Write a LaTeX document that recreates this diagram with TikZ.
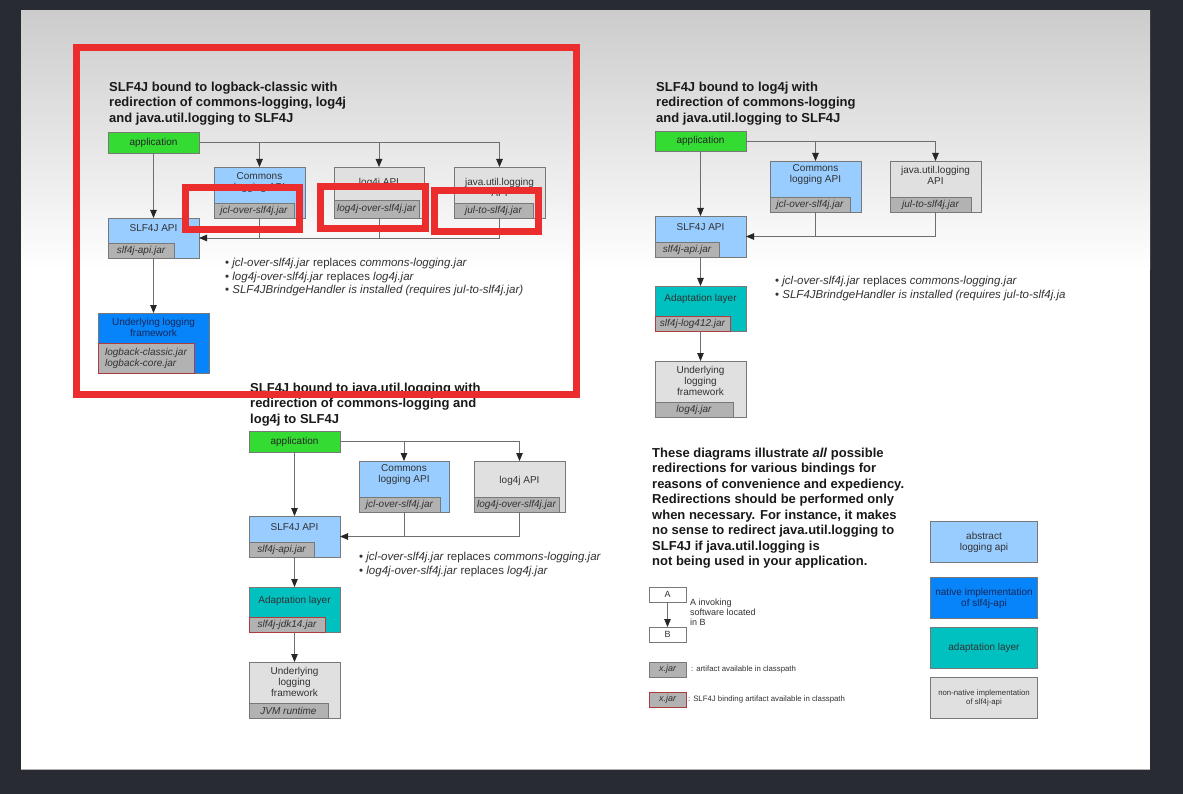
\documentclass[tikz,border=0pt]{standalone}
\usepackage{fontspec}
\setmainfont{Liberation Sans}
\usetikzlibrary{arrows.meta}
\definecolor{bgdark}{RGB}{40,43,50}
\definecolor{slidetop}{RGB}{204,204,204}
\definecolor{apiblue}{RGB}{153,204,255}
\definecolor{natblue}{RGB}{8,132,250}
\definecolor{tealc}{RGB}{0,192,192}
\definecolor{lgray}{RGB}{224,224,224}
\definecolor{jarc}{RGB}{178,178,178}
\definecolor{greenc}{RGB}{51,219,51}
\definecolor{bordc}{RGB}{120,120,120}
\definecolor{redhl}{RGB}{236,45,45}
\definecolor{jarred}{RGB}{175,60,60}
\definecolor{txtc}{RGB}{50,50,50}
\definecolor{navyc}{RGB}{20,40,90}
\definecolor{linec}{RGB}{110,110,110}
\newcommand\bxfont{\fontsize{10}{11}\selectfont}
\newcommand\ttlfont{\fontsize{13}{15.5}\selectfont\bfseries}
\newcommand\blfont{\fontsize{11.5}{13.5}\selectfont}
\newcommand\smfont{\fontsize{9}{10}\selectfont}
\newcommand\tnfont{\fontsize{7.8}{9}\selectfont}
\begin{document}
\begin{tikzpicture}[x=1pt,y=-1pt,
  box/.style={draw=bordc, line width=0.9pt, anchor=north west, inner sep=0pt, outer sep=0pt, minimum width=91},
  jar/.style={draw=bordc, line width=0.9pt, fill=jarc, anchor=south west, inner sep=0pt, outer sep=0pt, minimum height=15, font=\bxfont\itshape, text=txtc},
  bjar/.style={jar, draw=jarred},
  lbl/.style={font=\bxfont, text=txtc, align=center, inner sep=0pt},
  line/.style={draw=linec, line width=0.9pt},
  arr/.style={line, -{Triangle[length=8pt,width=6.5pt,color=black!85]}},
  hl/.style={draw=redhl, line width=7pt},
  ttl/.style={font=\ttlfont, anchor=north west, align=left, inner sep=0pt, text=black!90},
  bul/.style={font=\blfont, anchor=north west, align=left, inner sep=0pt, text=txtc},
  legbox/.style={draw=bordc, line width=1pt, anchor=north west, inner sep=0pt, minimum width=107, minimum height=41, align=center, text=txtc}
]
\useasboundingbox (0,0) rectangle (1183,794);
% backgrounds
\fill[bgdark] (0,0) rectangle (1183,794);
\shade[top color=slidetop, bottom color=white] (21,11) rectangle (1150,270);
\fill[white] (21,270) rectangle (1150,769);
\draw[gray!60, line width=1.5pt] (21,769.5) -- (1150,769.5);

% ================= Top-left diagram =================
\node[ttl] (tlt) at (109,81.5) {SLF4J bound to logback-classic with\\redirection of commons-logging, log4j\\and java.util.logging to SLF4J};
\node[box, fill=greenc, minimum height=21, font=\bxfont, text=black!85] (tlapp) at (108,132) {application};
\node[box, fill=apiblue, minimum height=51] (tlcom) at (214,167) {};
\node[lbl] (tlcoml) at ([yshift=-16]tlcom.north) {Commons\\logging API};
\node[jar, minimum width=80] (tlcomj) at (tlcom.south west) {jcl-over-slf4j.jar};
\node[box, fill=lgray, minimum height=51, minimum width=90] (tllog) at (334,167) {};
\node[lbl] (tllogl) at ([yshift=-16]tllog.north) {log4j API};
\node[jar, minimum width=85, minimum height=18] (tllogj) at (tllog.south west) {log4j-over-slf4j.jar};
\node[box, fill=lgray, minimum height=51] (tljul) at (454,167) {};
\node[lbl] (tljull) at ([yshift=-20]tljul.north) {java.util.logging\\API};
\node[jar, minimum width=79] (tljulj) at (tljul.south west) {jul-to-slf4j.jar};
\node[box, fill=apiblue, minimum height=40] (tlslf) at (108,218) {};
\node[lbl] (tlslfl) at ([yshift=-10.5]tlslf.north) {SLF4J API};
\node[jar, minimum width=66] (tlslfj) at (tlslf.south west) {slf4j-api.jar};
\node[box, fill=natblue, minimum height=60, minimum width=111] (tlund) at (98,313) {};
\node[lbl, text=navyc] (tlundl) at ([yshift=-14.5]tlund.north) {Underlying logging\\framework};
\node[bjar, minimum width=96, minimum height=30, align=left] (tlundj) at (tlund.south west) {logback-classic.jar\\logback-core.jar};
\draw[arr] (tlapp.south) -- (tlslf.north);
\draw[arr] (tlapp.east) -| (tljul.north);
\draw[arr] (tlapp.east -| tlcom.north) -- (tlcom.north);
\draw[arr] (tlapp.east -| tllog.north) -- (tllog.north);
\draw[line] (tlcom.south) -- (tlcom.south |- tlslf.east);
\draw[line] (tllog.south) -- (tllog.south |- tlslf.east);
\draw[arr] (tljul.south) |- (tlslf.east);
\draw[arr] (tlslf.south) -- (tlund.north -| tlslf.south);
\node[bul] (tlb) at (225,258) {• \textit{jcl-over-slf4j.jar} replaces \textit{commons-logging.jar}\\• \textit{log4j-over-slf4j.jar} replaces \textit{log4j.jar}\\• \textit{SLF4JBrindgeHandler is installed (requires jul-to-slf4j.jar)}};

% ================= Top-right diagram =================
\node[ttl] (trt) at (656,81.5) {SLF4J bound to log4j with\\redirection of commons-logging\\and java.util.logging to SLF4J};
\node[box, fill=greenc, minimum height=20, font=\bxfont, text=black!85] (trapp) at (655,131) {application};
\node[box, fill=apiblue, minimum height=51] (trcom) at (770,161) {};
\node[lbl] (trcoml) at ([yshift=-14]trcom.north) {Commons\\logging API};
\node[jar, minimum width=80] (trcomj) at (trcom.south west) {jcl-over-slf4j.jar};
\node[box, fill=lgray, minimum height=51] (trjul) at (890,161) {};
\node[lbl] (trjull) at ([yshift=-14]trjul.north) {java.util.logging\\API};
\node[jar, minimum width=81] (trjulj) at (trjul.south west) {jul-to-slf4j.jar};
\node[box, fill=apiblue, minimum height=41] (trslf) at (655,216) {};
\node[lbl] (trslfl) at ([yshift=-11]trslf.north) {SLF4J API};
\node[jar, minimum width=64] (trslfj) at (trslf.south west) {slf4j-api.jar};
\node[box, fill=tealc, minimum height=45] (trada) at (655,286) {};
\node[lbl] (tradal) at ([yshift=-13]trada.north) {Adaptation layer};
\node[bjar, minimum width=75] (tradaj) at (trada.south west) {slf4j-log412.jar};
\node[box, fill=lgray, minimum height=56] (trund) at (655,361) {};
\node[lbl] (trundl) at ([yshift=-20]trund.north) {Underlying\\logging\\framework};
\node[jar, minimum width=78] (trundj) at (trund.south west) {log4j.jar};
\draw[arr] (trapp.south) -- (trslf.north);
\draw[arr] (trapp.east) -| (trjul.north);
\draw[arr] (trapp.east -| trcom.north) -- (trcom.north);
\draw[line] (trcom.south) -- (trcom.south |- trslf.east);
\draw[arr] (trjul.south) |- (trslf.east);
\draw[arr] (trslf.south) -- (trada.north);
\draw[arr] (trada.south) -- (trund.north);
\node[bul] (trb) at (775,276) {• \textit{jcl-over-slf4j.jar} replaces \textit{commons-logging.jar}\\• \textit{SLF4JBrindgeHandler is installed (requires jul-to-slf4j.ja}};

% ================= Bottom-middle diagram =================
\node[ttl] (bmt) at (250,382.5) {SLF4J bound to java.util.logging with\\redirection of commons-logging and\\log4j to SLF4J};
\node[box, fill=greenc, minimum height=21, font=\bxfont, text=black!85] (bmapp) at (249,431) {application};
\node[box, fill=apiblue, minimum height=51, minimum width=90] (bmcom) at (359,461) {};
\node[lbl] (bmcoml) at ([yshift=-14]bmcom.north) {Commons\\logging API};
\node[jar, minimum width=81] (bmcomj) at (bmcom.south west) {jcl-over-slf4j.jar};
\node[box, fill=lgray, minimum height=51] (bmlog) at (474,461) {};
\node[lbl] (bmlogl) at ([yshift=-19.5]bmlog.north) {log4j API};
\node[jar, minimum width=85] (bmlogj) at (bmlog.south west) {log4j-over-slf4j.jar};
\node[box, fill=apiblue, minimum height=41] (bmslf) at (249,516) {};
\node[lbl] (bmslfl) at ([yshift=-11]bmslf.north) {SLF4J API};
\node[jar, minimum width=65] (bmslfj) at (bmslf.south west) {slf4j-api.jar};
\node[box, fill=tealc, minimum height=45] (bmada) at (249,587) {};
\node[lbl] (bmadal) at ([yshift=-13.5]bmada.north) {Adaptation layer};
\node[bjar, minimum width=76] (bmadaj) at (bmada.south west) {slf4j-jdk14.jar};
\node[box, fill=lgray, minimum height=56] (bmund) at (249,662) {};
\node[lbl] (bmundl) at ([yshift=-19.5]bmund.north) {Underlying\\logging\\framework};
\node[jar, minimum width=79] (bmundj) at (bmund.south west) {JVM runtime};
\draw[arr] (bmapp.south) -- (bmslf.north);
\draw[arr] (bmapp.east) -| (bmlog.north);
\draw[arr] (bmapp.east -| bmcom.north) -- (bmcom.north);
\draw[line] (bmcom.south) -- (bmcom.south |- bmslf.east);
\draw[arr] (bmlog.south) |- (bmslf.east);
\draw[arr] (bmslf.south) -- (bmada.north);
\draw[arr] (bmada.south) -- (bmund.north);
\node[bul] (bmb) at (359,552) {• \textit{jcl-over-slf4j.jar} replaces \textit{commons-logging.jar}\\• \textit{log4j-over-slf4j.jar} replaces \textit{log4j.jar}};

% ================= Explanation and legend =================
\node[ttl] (para) at (652,447.5) {These diagrams illustrate \textit{all} possible\\redirections for various bindings for\\reasons of convenience and expediency.\\Redirections should be performed only\\when necessary. For instance, it makes\\no sense to redirect java.util.logging to\\SLF4J if java.util.logging is\\not being used in your application.};

\node[box, fill=white, minimum width=37, minimum height=15, font=\smfont, text=txtc] (lga) at (649,587) {A};
\node[box, fill=white, minimum width=37, minimum height=15, font=\smfont, text=txtc] (lgb) at (649,627) {B};
\draw[arr] (lga.south) -- (lgb.north);
\node[font=\smfont, text=txtc, anchor=north west, align=left, inner sep=0pt] (lgat) at (690,599) {A invoking\\software located\\in B};
\node[jar, anchor=north west, minimum width=37, font=\smfont\itshape] (lgj) at (649,662) {x.jar};
\node[font=\tnfont, text=txtc, anchor=west, inner sep=0pt] (lgjt) at (691,669.5) {: artifact available in classpath};
\node[bjar, anchor=north west, minimum width=37, font=\smfont\itshape] (lgbj) at (649,692) {x.jar};
\node[font=\tnfont, text=txtc, anchor=west, inner sep=0pt] (lgbjt) at (688,699.5) {: SLF4J binding artifact available in classpath};

\node[legbox, fill=apiblue, font=\bxfont] (lc1) at (930,521) {abstract\\logging api};
\node[legbox, fill=natblue, font=\bxfont, text=navyc] (lc2) at (930,577) {native implementation\\of slf4j-api};
\node[legbox, fill=tealc, font=\bxfont] (lc3) at (930,627) {adaptation layer};
\node[legbox, fill=lgray, font=\tnfont] (lc4) at (930,677) {non-native implementation\\of slf4j-api};

% ================= Red highlights =================
\draw[hl] (76,48) rectangle (576,394);
\draw[hl] (185.5,187.5) rectangle (299.5,229.5);
\draw[hl] (320.5,186.5) rectangle (425.5,228.5);
\draw[hl] (434.5,190.5) rectangle (538.5,231.5);
\end{tikzpicture}
\end{document}
